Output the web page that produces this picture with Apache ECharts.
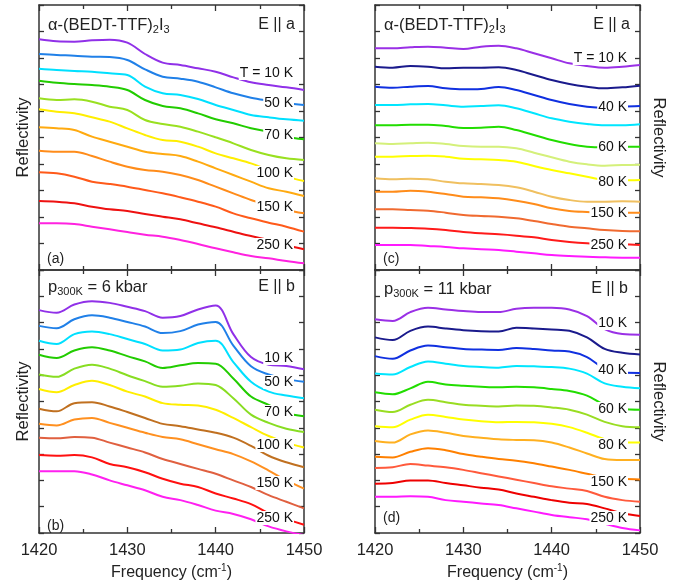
<!DOCTYPE html>
<html>
<head>
<meta charset="utf-8">
<script src="https://cdn.jsdelivr.net/npm/echarts@6/dist/echarts.min.js"></script>
<style>
html, body { margin: 0; padding: 0; background: #fff; }
#chart { width: 690px; height: 582px; }
</style>
</head>
<body>
<div id="chart"></div>
<script>
// frequency grid (cm-1), shared by all spectra
var freq = [1420, 1422, 1424, 1426, 1428, 1430, 1432, 1434, 1436, 1438, 1440, 1442, 1444, 1446, 1448, 1450];

// reflectivity, arb. units with vertical offsets, top curve first
var specA = [
    [692, 686, 685, 689, 691, 682, 648, 622, 615, 605, 595, 578, 563, 555, 548, 540],
    [648, 645, 643, 640, 639, 630, 602, 580, 574, 565, 548, 530, 517, 508, 500, 495],
    [604, 600, 597, 595, 590, 585, 550, 530, 525, 513, 495, 480, 465, 458, 452, 448],
    [568, 562, 558, 555, 550, 540, 510, 492, 485, 470, 452, 440, 425, 415, 400, 392],
    [515, 510, 512, 505, 490, 480, 450, 438, 430, 415, 398, 380, 360, 345, 335, 330],
    [482, 475, 470, 458, 445, 425, 405, 390, 385, 370, 350, 335, 320, 300, 280, 267],
    [428, 425, 420, 400, 385, 370, 355, 348, 342, 325, 305, 285, 265, 245, 235, 222],
    [358, 355, 355, 342, 325, 310, 300, 295, 285, 270, 250, 230, 210, 195, 180, 170],
    [293, 290, 280, 265, 258, 250, 240, 230, 218, 205, 190, 170, 155, 142, 130, 115],
    [207, 205, 200, 190, 182, 177, 168, 160, 152, 140, 128, 115, 102, 90, 75, 62],
    [140, 140, 138, 130, 122, 114, 106, 100, 90, 78, 65, 53, 42, 35, 27, 20]
];
var specB = [
    [678, 670, 695, 705, 700, 688, 675, 655, 660, 680, 692, 605, 535, 512, 508, 498],
    [630, 623, 650, 662, 655, 642, 628, 608, 614, 634, 642, 570, 507, 482, 468, 460],
    [585, 575, 605, 613, 605, 590, 575, 555, 558, 578, 585, 520, 460, 430, 418, 410],
    [542, 532, 555, 565, 555, 538, 522, 502, 510, 517, 515, 470, 415, 390, 365, 355],
    [482, 475, 500, 512, 500, 480, 462, 445, 448, 455, 450, 410, 360, 335, 317, 307],
    [438, 428, 450, 463, 450, 430, 415, 395, 390, 388, 375, 350, 322, 295, 275, 260],
    [378, 370, 395, 398, 385, 368, 350, 332, 325, 315, 305, 290, 265, 235, 215, 200],
    [332, 327, 345, 350, 335, 320, 305, 292, 285, 270, 255, 240, 218, 190, 160, 135],
    [290, 288, 292, 290, 275, 260, 245, 225, 210, 195, 180, 160, 140, 115, 95, 75],
    [237, 235, 237, 230, 210, 200, 185, 165, 150, 140, 120, 105, 88, 60, 42, 25],
    [188, 188, 188, 178, 160, 145, 130, 110, 100, 85, 68, 58, 42, 20, 5, -6]
];
var specC = [
    [665, 665, 668, 670, 667, 663, 670, 673, 665, 650, 635, 620, 612, 607, 610, 615],
    [610, 607, 612, 610, 605, 607, 607, 608, 600, 585, 570, 558, 550, 545, 548, 553],
    [550, 547, 550, 552, 545, 542, 543, 549, 540, 525, 510, 498, 490, 487, 490, 492],
    [495, 495, 497, 498, 494, 490, 492, 494, 485, 470, 455, 445, 438, 434, 434, 437],
    [434, 434, 436, 436, 432, 426, 427, 430, 420, 405, 390, 378, 370, 368, 369, 370],
    [380, 378, 380, 382, 378, 372, 370, 370, 365, 352, 338, 325, 317, 313, 315, 316],
    [340, 340, 342, 343, 340, 334, 332, 330, 325, 312, 300, 290, 280, 270, 269, 270],
    [275, 272, 274, 272, 265, 260, 258, 255, 248, 235, 220, 210, 205, 205, 206, 205],
    [235, 235, 238, 235, 228, 220, 218, 215, 208, 198, 185, 177, 174, 172, 172, 172],
    [182, 182, 180, 178, 172, 165, 162, 160, 155, 147, 138, 130, 125, 120, 117, 116],
    [127, 127, 126, 124, 120, 114, 110, 107, 103, 98, 90, 84, 80, 78, 77, 75],
    [75, 75, 75, 72, 69, 65, 62, 60, 55, 50, 45, 42, 40, 38, 37, 37]
];
var specD = [
    [650, 645, 672, 685, 680, 675, 672, 672, 682, 685, 685, 680, 660, 620, 605, 603],
    [595, 587, 615, 628, 622, 617, 614, 613, 624, 622, 619, 615, 595, 560, 548, 543],
    [538, 530, 555, 570, 565, 560, 558, 557, 563, 560, 555, 552, 535, 500, 488, 487],
    [485, 482, 505, 522, 515, 508, 505, 503, 508, 507, 505, 500, 485, 455, 445, 440],
    [428, 422, 440, 460, 452, 448, 445, 443, 445, 443, 438, 432, 418, 390, 378, 375],
    [375, 368, 390, 405, 398, 390, 387, 385, 388, 387, 382, 375, 360, 338, 325, 322],
    [325, 322, 345, 360, 353, 345, 340, 337, 338, 337, 332, 322, 305, 285, 275, 275],
    [280, 275, 300, 312, 305, 295, 290, 285, 283, 282, 275, 260, 242, 225, 222, 222],
    [232, 230, 247, 258, 252, 240, 232, 225, 220, 212, 202, 192, 180, 168, 165, 163],
    [198, 200, 210, 205, 200, 192, 182, 172, 162, 152, 142, 135, 128, 110, 100, 95],
    [150, 152, 160, 160, 152, 145, 138, 132, 120, 110, 100, 92, 88, 75, 60, 52],
    [110, 110, 112, 110, 100, 95, 90, 85, 75, 65, 55, 48, 42, 28, 15, 8]
];

var colorsA = ['#9030e8', '#2080e8', '#00e0ff', '#22cc00', '#99e020', '#ffee00', '#ffaa10', '#ff8c1a', '#ff5a1a', '#ee1111', '#ff22e0'];
var colorsB = ['#9030e8', '#2080e8', '#00e0ff', '#22cc00', '#88dd22', '#ffee00', '#c07020', '#ff9020', '#e06040', '#ff1010', '#ff20f0'];
var colorsC = ['#9a30e6', '#1a1a8c', '#1030e0', '#00e6ff', '#22dd00', '#d4f07a', '#ffff00', '#f0c060', '#ff8c1a', '#f06a30', '#ff1a1a', '#ff1aff'];
var colorsD = ['#9a30e6', '#1a1a8c', '#1030e0', '#00e6ff', '#22dd00', '#99dd22', '#ffff00', '#ffb020', '#ff8000', '#ff5a3c', '#ee0000', '#ff1aff'];

var tempsA = ['T = 10 K', '50 K', '70 K', '100 K', '150 K', '250 K'];
var tempsB = ['10 K', '50 K', '70 K', '100 K', '150 K', '250 K'];
var tempsC = ['T = 10 K', '40 K', '60 K', '80 K', '150 K', '250 K'];
var tempsD = ['10 K', '40 K', '60 K', '80 K', '150 K', '250 K'];

var font = '"Liberation Sans", Arial, sans-serif';
var axisColor = '#333';

var panels = [
    { spec: specA, colors: colorsA, temps: tempsA, tempY: [73, 103, 135, 173, 207, 245], tempX: 294,
      left: 39, top: 5, height: 265, max: 795, bottom: true, yName: 'left',
      title: 'α-(BEDT-TTF){s|2}I{s|3}', titleY: 25, pol: 'E || a', polX: 295, tag: '(a)', tagY: 259 },
    { spec: specB, colors: colorsB, temps: tempsB, tempY: [358, 382, 412, 445, 483, 518], tempX: 294,
      left: 39, top: 270, height: 267, max: 800, bottom: false, yName: 'left',
      title: 'p{s|300K} = 6 kbar', titleY: 287, pol: 'E || b', polX: 295, tag: '(b)', tagY: 526 },
    { spec: specC, colors: colorsC, temps: tempsC, tempY: [58, 107, 147, 182, 213, 245], tempX: 628,
      left: 375, top: 5, height: 265, max: 795, bottom: true, yName: 'right',
      title: 'α-(BEDT-TTF){s|2}I{s|3}', titleY: 25, pol: 'E || a', polX: 630, tag: '(c)', tagY: 259 },
    { spec: specD, colors: colorsD, temps: tempsD, tempY: [323, 370, 409, 445, 482, 518], tempX: 628,
      left: 375, top: 270, height: 267, max: 800, bottom: false, yName: 'right',
      title: 'p{s|300K} = 11 kbar', titleY: 289, pol: 'E || b', polX: 628, tag: '(d)', tagY: 518 }
];

var grids = [], xAxes = [], yAxes = [], series = [], graphics = [];

panels.forEach(function (p, i) {
    grids.push({ left: p.left, top: p.top, width: 265, height: p.height });

    ['bottom', 'top'].forEach(function (pos) {
        var showLabel = pos === 'bottom' && !p.bottom;
        xAxes.push({
            gridIndex: i, type: 'value', position: pos, min: 1420, max: 1450, interval: 10,
            axisLine: { show: true, onZero: false, lineStyle: { color: axisColor, width: 1.5 } },
            axisTick: { show: true, inside: true, length: 6, lineStyle: { color: axisColor, width: 1.3 } },
            minorTick: { show: true, splitNumber: 2, length: 4, lineStyle: { color: axisColor, width: 1.3 } },
            axisLabel: { show: showLabel, fontSize: 16.5, fontFamily: font, color: '#222', margin: 9,
                formatter: function (v) { return String(v); } },
            splitLine: { show: false },
            name: showLabel ? 'Frequency (cm{u|-1})' : '',
            nameLocation: 'middle', nameGap: 30,
            nameTextStyle: { fontSize: 16, fontFamily: font, color: '#222',
                rich: { u: { fontSize: 10, fontFamily: font, color: '#222', padding: [0, 0, 10, 0] } } }
        });
    });

    ['left', 'right'].forEach(function (pos) {
        var named = pos === p.yName;
        yAxes.push({
            gridIndex: i, type: 'value', position: pos, min: 0, max: p.max, interval: p.max / 10,
            axisLine: { show: true, onZero: false, lineStyle: { color: axisColor, width: 1.5 } },
            axisTick: { show: true, inside: true, length: 5, lineStyle: { color: axisColor, width: 1.3 } },
            axisLabel: { show: false },
            splitLine: { show: false },
            name: named ? 'Reflectivity' : '',
            nameLocation: 'middle', nameGap: pos === 'left' ? 7 : 10,
            nameRotate: pos === 'left' ? 90 : -90,
            nameTextStyle: { fontSize: 16.5, fontFamily: font, color: '#222' }
        });
    });

    p.spec.forEach(function (vals, k) {
        series.push({
            type: 'line', xAxisIndex: 2 * i, yAxisIndex: 2 * i,
            data: freq.map(function (f, j) { return [f, vals[j]]; }),
            smooth: 0.35, showSymbol: false, silent: true,
            lineStyle: { width: 2, color: p.colors[k] },
            itemStyle: { color: p.colors[k] }
        });
    });

    p.temps.forEach(function (t, k) {
        graphics.push({
            type: 'text', x: p.tempX, y: p.tempY[k], z: 100,
            style: { text: t, align: 'right', verticalAlign: 'middle', font: '14px ' + font,
                fill: '#111', backgroundColor: '#fff', padding: [0, 1, 0, 1] }
        });
    });

    graphics.push({
        type: 'text', x: p.left + 9, y: p.titleY, z: 100,
        style: { text: p.title, verticalAlign: 'middle', font: '16.5px ' + font, fill: '#222',
            rich: { s: { font: '11px ' + font, fill: '#222', padding: [10, 0, 0, 0] } } }
    });
    graphics.push({
        type: 'text', x: p.polX, y: p.titleY, z: 100,
        style: { text: p.pol, align: 'right', verticalAlign: 'middle', font: '16px ' + font, fill: '#222' }
    });
    graphics.push({
        type: 'text', x: p.left + 8, y: p.tagY, z: 100,
        style: { text: p.tag, verticalAlign: 'middle', font: '14px ' + font, fill: '#222' }
    });
});

var chart = echarts.init(document.getElementById('chart'));
chart.setOption({
    animation: false,
    backgroundColor: '#fff',
    grid: grids,
    xAxis: xAxes,
    yAxis: yAxes,
    series: series,
    graphic: graphics
});
</script>
</body>
</html>
